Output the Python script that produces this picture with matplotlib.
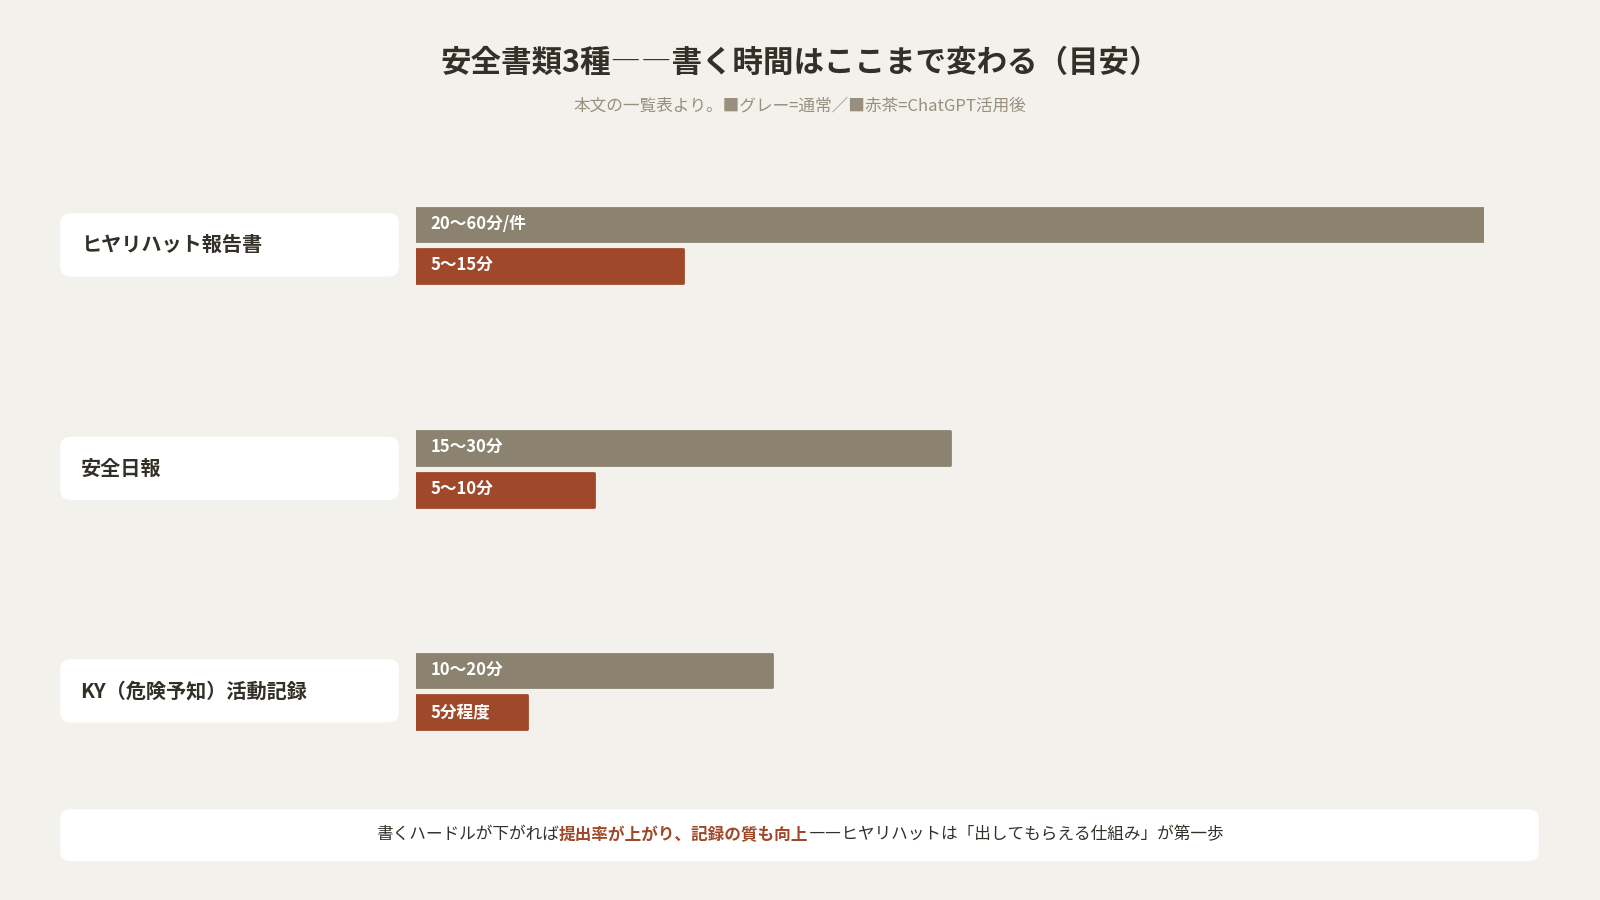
import matplotlib
matplotlib.use("Agg")
import matplotlib.pyplot as plt
from matplotlib.patches import FancyBboxPatch

plt.rcParams['font.family'] = ['Noto Sans CJK JP', 'DejaVu Sans']

categories = ["ヒヤリハット報告書", "安全日報", "KY（危険予知）活動記録"]
normal_max = [60, 30, 20]
normal_labels = ["20〜60分/件", "15〜30分", "10〜20分"]
gpt_max = [15, 10, 6.2]
gpt_labels = ["5〜15分", "5〜10分", "5分程度"]

BG = "#F3F1EC"; GRAY = "#8B8370"; RED = "#A0482A"; DARK = "#333028"; SUB = "#9A8F7E"
W, H = 1568, 882
fig = plt.figure(figsize=(16, 9), dpi=100, facecolor=BG)

# overlay axes in reference pixel coords
ov = fig.add_axes([0, 0, 1, 1]); ov.set_xlim(0, W); ov.set_ylim(H, 0); ov.axis("off")
ov.text(W/2, 62, "安全書類3種――書く時間はここまで変わる（目安）", ha="center", va="center",
        fontsize=22, fontweight="bold", color=DARK)
ov.text(W/2, 104, "本文の一覧表より。■グレー=通常／■赤茶=ChatGPT活用後", ha="center", va="center",
        fontsize=12, color=SUB)

row_centers = [240, 459, 677]
for cat, yc in zip(categories, row_centers):
    ov.add_patch(FancyBboxPatch((59, yc-31), 332, 62, boxstyle="round,pad=0,rounding_size=10",
                                fc="white", ec="none"))
    ov.text(79, yc, cat, ha="left", va="center", fontsize=14.5, fontweight="bold", color=DARK)

ov.add_patch(FancyBboxPatch((59, 793), 1449, 51, boxstyle="round,pad=0,rounding_size=10",
                            fc="white", ec="none"))
parts = [("書くハードルが下がれば", DARK, "normal"),
         ("提出率が上がり、記録の質も向上", RED, "bold"),
         ("――ヒヤリハットは「出してもらえる仕組み」が第一歩", DARK, "normal")]
fig.canvas.draw()
r = fig.canvas.get_renderer()
texts = []
for s, c, w in parts:
    t = ov.text(0, 818, s, ha="left", va="center", fontsize=12, color=c, fontweight=w)
    texts.append(t)
widths = [t.get_window_extent(r).width * W / fig.bbox.width for t in texts]
x = W/2 - sum(widths)/2
for t, wd in zip(texts, widths):
    t.set_x(x); x += wd

# bar axes: x in data units, y in pixel coords
ax = fig.add_axes([408/W, 0, 1046/W, 1]); ax.set_xlim(0, 60); ax.set_ylim(H, 0); ax.axis("off")
ax.patch.set_alpha(0)
bh = 33
for yc, nv, nl, gv, gl in zip(row_centers, normal_max, normal_labels, gpt_max, gpt_labels):
    yg, yr = yc-20, yc+21
    ax.barh(yg, nv, height=bh, color=GRAY, edgecolor=GRAY, linewidth=2, joinstyle="round")
    ax.barh(yr, gv, height=bh, color=RED, edgecolor=RED, linewidth=2, joinstyle="round")
    ax.text(0.8, yg, nl, ha="left", va="center", color="white", fontsize=12, fontweight="bold")
    ax.text(0.8, yr, gl, ha="left", va="center", color="white", fontsize=12, fontweight="bold")

fig.savefig("out.png", dpi=100, facecolor=BG)
